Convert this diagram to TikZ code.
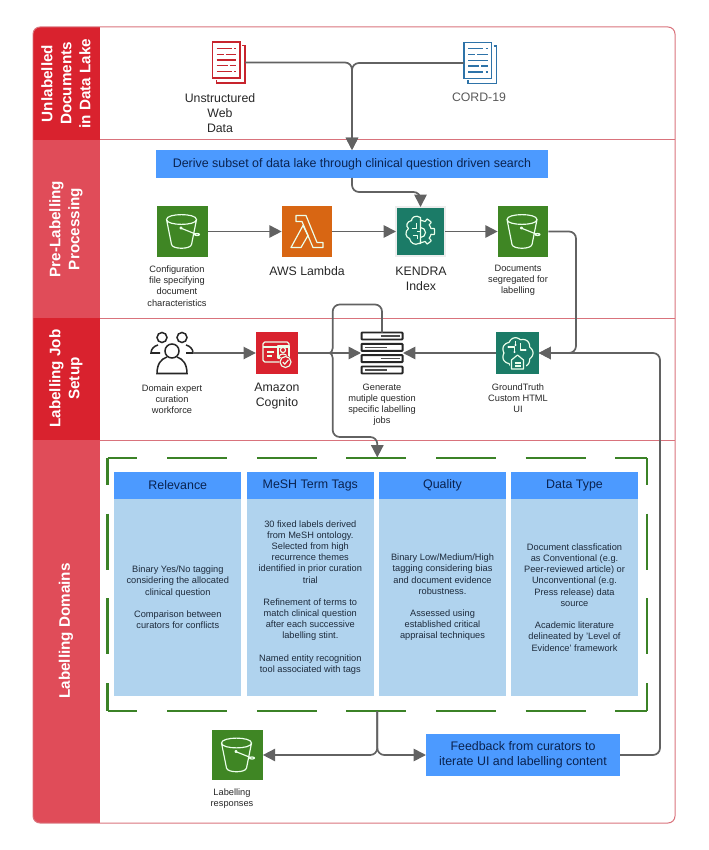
\documentclass[tikz,border=0pt]{standalone}
\usepackage{fontspec}
\setmainfont{Liberation Sans}
\usepackage{xcolor}
\usetikzlibrary{arrows.meta}
\definecolor{bandDark}{HTML}{D9222E}
\definecolor{bandLight}{HTML}{E04C59}
\definecolor{rowLine}{HTML}{D9737C}
\definecolor{flowGray}{HTML}{626262}
\definecolor{boxBlue}{HTML}{4C9AFF}
\definecolor{bodyBlue}{HTML}{B0D3EE}
\definecolor{inkNavy}{HTML}{0A2350}
\definecolor{inkBody}{HTML}{1E2B3C}
\definecolor{s3Green}{HTML}{3F8624}
\definecolor{awsOrange}{HTML}{D86613}
\definecolor{awsTeal}{HTML}{1B7B67}
\definecolor{frameGreen}{HTML}{3B8226}
\definecolor{docRed}{HTML}{C7242D}
\definecolor{docBlue}{HTML}{2E73A8}
\tikzset{
    flowline/.style={draw=flowGray,line width=1.45pt,rounded corners=6pt},
    flowarrow/.style={flowline,-{Triangle[length=10.5pt,width=10.5pt]}},
    iconline/.style={draw=white!92!green,line width=1pt,line join=round},
    tinylabel/.style={align=center,text=black!85,font=\fontsize{7.9}{9.5}\selectfont},
    midlabel/.style={align=center,text=black!85,font=\fontsize{10.5}{12.8}\selectfont},
    bandlabel/.style={align=center,text=white,rotate=90,font=\fontsize{13}{16.2}\bfseries\selectfont},
    iconbox/.style={minimum size=1.52cm,inner sep=0pt,outer sep=0pt},
    smallbox/.style={minimum width=1.27cm,minimum height=1.27cm,inner sep=0pt,outer sep=0pt},
    iconspot/.style={inner sep=0pt,outer sep=0pt},
    bluebox/.style={fill=boxBlue,text=inkNavy,align=center,inner sep=0pt,outer sep=0pt,font=\fontsize{10.6}{12.8}\selectfont},
    colhead/.style={bluebox,minimum width=3.81cm,minimum height=0.79cm},
    colbody/.style={fill=bodyBlue,text=inkBody,align=center,inner sep=0pt,outer sep=0pt,minimum width=3.81cm,minimum height=5.92cm,font=\fontsize{7.9}{9.55}\selectfont},
    domainh/.style={draw=frameGreen,line width=2pt,dash pattern=on 51.2pt off 25.3pt,dash phase=25.6pt},
    domainv/.style={draw=frameGreen,line width=2pt,dash pattern=on 47.8pt off 24.5pt,dash phase=24.8pt},
    pics/docpage/.style={code={
        \draw[line width=1.3pt] (-16,-20.5) rectangle (11.5,15.5);
        \draw[line width=1.3pt] (13.5,-17) -- (16.5,-17) -- (16.5,20.5) -- (-12,20.5) -- (-12,17.5);
        \foreach \rowy/\enda/\startb in {-14.2/3/5.5,-8.2/-5/-3,-2.5/7.5/7.5,3.2/-1/1,9.2/3/5.5}{
            \draw[line width=1.2pt] (-12,\rowy) -- (\enda,\rowy);
            \draw[line width=1.2pt] (\startb,\rowy) -- (7.5,\rowy);
        }
    }},
    pics/bucketpic/.style={code={
        \draw[iconline] (-16,-12) .. controls (-16,-18.5) and (14,-18.5) .. (14,-12)
            .. controls (14,-5.5) and (-16,-5.5) .. (-16,-12)
            -- (-11,13) .. controls (-10,18) and (8,18) .. (9,13) -- (14,-12);
        \draw[iconline] (-2,-3.5) -- (13,2.5);
        \draw[iconline] (-1.5,-3.5) circle [radius=1];
        \draw[iconline] (14.5,3) ellipse [x radius=2.5,y radius=1];
    }},
    pics/lambdapic/.style={code={
        \draw[iconline] (-11,-16) -- (-1,-16) -- (10,11) -- (16,11) -- (16,16) -- (6,16)
            -- (-5,-10) -- (-11,-10) -- cycle;
        \draw[iconline] (-16,16) -- (-4,-6) -- (1,4) -- (-6,16) -- cycle;
    }},
    pics/brainpic/.style={code={
        \draw[iconline] (0,-14) .. controls (-5,-17) and (-9,-14) .. (-9,-11)
            .. controls (-14,-10) and (-15,-5) .. (-12,-3)
            .. controls (-16,0) and (-15,6) .. (-11,7)
            .. controls (-10,12) and (-5,14) .. (-2,12) .. controls (-1,13) and (0,12) .. (0,10) -- cycle;
        \draw[iconline] plot[domain=-90:90,samples=73,smooth] (\x:{12.5+1.6*sign(cos(7*\x))});
        \draw[iconline] (0,-4) arc [start angle=-90,end angle=90,radius=5];
        \draw[iconline] (-9,-3) -- (-4,-3) -- (-4,-8);
        \draw[iconline] (-8,4) -- (-3,4) -- (-3,8);
        \draw[iconline] (-4,0) -- (0,0);
    }},
    pics/treepic/.style={code={
        \draw[iconline] plot[domain=0:360,samples=97,smooth cycle] (\x:{13.5+2*abs(cos(3.5*\x))});
        \fill[awsTeal] (-8,3) rectangle (8,17);
        \draw[iconline] (-6,7) -- (0,2) -- (6,7) -- (6,16) -- (-6,16) -- cycle;
        \draw[iconline] (-3,10) -- (3,10) (-3,13) -- (3,13);
        \draw[iconline] (-9,-6) -- (-3,-6) -- (-3,-1) (3,-10) -- (3,-3) -- (8,-3) (-2,-12) -- (-2,-8);
        \foreach \dotx/\doty in {-9/-6,-3/-1,8/-3,-2/-8}{
            \fill[white] (\dotx,\doty) circle [radius=1.1];
        }
    }},
    pics/cognitopic/.style={code={
        \draw[iconline,rounded corners=1.5pt] (4,9) -- (-14,9) -- (-14,-11) -- (12,-11) -- (12,0);
        \draw[iconline] (-14,-6) -- (12,-6);
        \draw[iconline] (-10,-1) -- (-3,-1) (-10,3) -- (-5,3);
        \draw[iconline] (1,-7) rectangle (12,5);
        \draw[iconline] (6,-3) circle [radius=2.6];
        \draw[iconline] (2,4) .. controls (2,0) and (10,0) .. (10,4);
        \fill[bandDark] (8.5,9) circle [radius=6.5];
        \draw[iconline] (8.5,9) circle [radius=5.5];
        \draw[iconline] (5.8,9) -- (7.8,11.2) -- (11.4,6.8);
    }},
    pics/serverpic/.style={code={
        \foreach \rowy/\linea/\lineb in {-17/-1.5/17.5,-5.6/-17/4.5,5.6/-1.5/17.5,17/-17/4.5}{
            \draw[black!85,line width=1.7pt,rounded corners=0.6pt] (-20.5,\rowy-3.5) rectangle (20.5,\rowy+3.5);
            \draw[black!70,line width=1.2pt] (\linea,\rowy) -- (\lineb,\rowy);
        }
    }},
    pics/peoplepic/.style={code={
        \draw[black!85,line width=1.3pt] (-10,-15.5) circle [radius=5];
        \draw[black!85,line width=1.3pt] (10,-15.5) circle [radius=5];
        \draw[black!85,line width=1.3pt] (-14,-8) .. controls (-18,-7) and (-21,-4) .. (-21,0) -- (-12,0);
        \draw[black!85,line width=1.3pt] (14,-8) .. controls (18,-7) and (21,-4) .. (21,0) -- (14,0);
        \fill[white] (0,-2) circle [radius=7.5];
        \draw[black!85,line width=1.3pt] (0,-2) circle [radius=7];
        \draw[black!85,line width=1.3pt] (-5,4) .. controls (-11,6) and (-15,11) .. (-15,20.5) -- (15,20.5)
            .. controls (15,11) and (11,6) .. (5,4);
    }}
}
\begin{document}
\begin{tikzpicture}[x=0.03cm,y=-0.03cm]
    \useasboundingbox (0,0) rectangle (708,850);

    % swimlane bands
    \begin{scope}
        \clip[rounded corners=6pt] (33,27) rectangle (675,823);
        \fill[bandDark] (33,27) rectangle (100,140);
        \fill[bandLight] (33,140) rectangle (100,318);
        \fill[bandDark] (33,318) rectangle (100,440);
        \fill[bandLight] (33,440) rectangle (100,823);
    \end{scope}
    \draw[rowLine,line width=0.85pt,rounded corners=6pt] (33,27) rectangle (675,823);
    \foreach \rowy in {140,318,440}{
        \draw[rowLine,line width=0.85pt] (100,\rowy) -- (675,\rowy);
    }
    \node[bandlabel] (bandLake) at (66,83.5) {Unlabelled\\Documents\\in Data Lake};
    \node[bandlabel] (bandPre) at (66,229) {Pre-Labelling\\Processing};
    \node[bandlabel] (bandJob) at (66,378.5) {Labelling Job\\Setup};
    \node[bandlabel] (bandDomain) at (66,631) {Labelling Domains};

    % first lane
    \node[iconspot,minimum width=0.99cm,minimum height=1.23cm] (docRed) at (228.5,62.5) {};
    \pic[docRed] at (docRed) {docpage};
    \node[iconspot,minimum width=0.99cm,minimum height=1.23cm] (docBlue) at (480,63) {};
    \pic[docBlue] at (docBlue) {docpage};
    \node[midlabel] (labelWeb) at (220,113) {Unstructured\\Web\\Data};
    \node[midlabel,text=black!65] (labelCord) at (479,97) {CORD-19};
    \node[bluebox,minimum width=11.76cm,minimum height=0.84cm] (subset) at (352,164) {Derive subset of data lake through clinical question driven search};

    % second lane
    \node[iconbox,fill=s3Green] (bucketConfig) at (182.5,231.5) {};
    \pic at (bucketConfig) {bucketpic};
    \node[iconbox,fill=awsOrange] (lambda) at (307,231.5) {};
    \pic at (lambda) {lambdapic};
    \node[iconbox,minimum size=1.47cm,fill=awsTeal,draw=black!7,line width=1.5pt] (kendra) at (420.5,231.5) {};
    \pic at (kendra) {brainpic};
    \node[iconbox,fill=s3Green] (bucketDocs) at (523,231.5) {};
    \pic at (bucketDocs) {bucketpic};
    \node[tinylabel] (labelConfig) at (177,286) {Configuration\\file specifying\\document\\characteristics};
    \node[midlabel] (labelLambda) at (307,271) {AWS Lambda};
    \node[midlabel] (labelKendra) at (421,278.5) {KENDRA\\Index};
    \node[tinylabel] (labelDocs) at (518,280.5) {Documents\\segregated for\\labelling};

    % third lane
    \node[iconspot,minimum width=1.26cm,minimum height=1.23cm] (people) at (172,353) {};
    \pic at (people) {peoplepic};
    \node[smallbox,fill=bandDark] (cognito) at (277,353) {};
    \pic at (cognito) {cognitopic};
    \node[iconspot,minimum width=1.26cm,minimum height=1.23cm] (server) at (382,353) {};
    \pic at (server) {serverpic};
    \node[smallbox,fill=awsTeal] (groundtruth) at (517.5,353) {};
    \pic at (groundtruth) {treepic};
    \node[tinylabel] (labelPeople) at (172,399) {Domain expert\\curation\\workforce};
    \node[midlabel] (labelCognito) at (277,396.5) {Amazon\\Cognito};
    \node[tinylabel] (labelServer) at (382,404.5) {Generate\\mutiple question\\specific labelling\\jobs};
    \node[tinylabel] (labelTruth) at (518,398) {GroundTruth\\Custom HTML\\UI};

    % labelling domains
    \draw[domainh] (107.5,458) -- (647,458);
    \draw[domainh] (107.5,710.7) -- (647,710.7);
    \draw[domainv] (107.5,458) -- (107.5,710.7);
    \draw[domainv] (647,458) -- (647,710.7);
    \node[colhead] (headRelevance) at (177.8,485.5) {Relevance};
    \node[colbody] (bodyRelevance) at (177.8,597.4) {Binary Yes/No tagging\\considering the allocated\\clinical question\\[\baselineskip]Comparison between\\curators for conflicts};
    \node[colhead] (headMesh) at (310.3,485.5) {MeSH Term Tags};
    \node[colbody] (bodyMesh) at (310.3,597.4) {30 fixed labels derived\\from MeSH ontology.\\Selected from high\\recurrence themes\\identified in prior curation\\trial\\[\baselineskip]Refinement of terms to\\match clinical question\\after each successive\\labelling stint.\\[\baselineskip]Named entity recognition\\tool associated with tags};
    \node[colhead] (headQuality) at (442.5,485.5) {Quality};
    \node[colbody] (bodyQuality) at (442.5,597.4) {Binary Low/Medium/High\\tagging considering bias\\and document evidence\\robustness.\\[\baselineskip]Assessed using\\established critical\\appraisal techniques};
    \node[colhead] (headType) at (574.5,485.5) {Data Type};
    \node[colbody] (bodyType) at (574.5,597.4) {Document classfication\\as Conventional (e.g.\\Peer-reviewed article) or\\Unconventional (e.g.\\Press release) data\\source\\[\baselineskip]Academic literature\\delineated by 'Level of\\Evidence' framework};

    % bottom of the last lane
    \node[iconbox,fill=s3Green] (bucketResp) at (237.5,755) {};
    \pic at (bucketResp) {bucketpic};
    \node[tinylabel] (labelResp) at (232,799) {Labelling\\responses};
    \node[bluebox,minimum width=5.82cm,minimum height=1.26cm] (feedback) at (523,755) {Feedback from curators to\\iterate UI and labelling content};

    % turning points of the connectors
    \coordinate (kendraTurn) at (420.5,192);
    \coordinate (truthTurn) at (576,300);
    \coordinate (feedTurn) at (660,500);
    \coordinate (loopTopRight) at (382,304.5);
    \coordinate (loopTopLeft) at (332.7,304.5);
    \coordinate (hopTop) at (332.7,348);
    \coordinate (hopMid) at (329.6,353);
    \coordinate (hopBottom) at (332.7,358);
    \coordinate (loopBottomLeft) at (332.7,437);
    \coordinate (loopBottomRight) at (377.3,437);
    \coordinate (domainTop) at (377.3,457.5);
    \coordinate (domainBottom) at (377.3,711);

    % connectors
    \draw[flowarrow] (docRed.east) -| (subset.north);
    \draw[flowarrow] (docBlue.west) -| (subset.north);
    \draw[flowarrow] (subset.south) |- (kendraTurn) -- (kendra.north);
    \draw[flowarrow] (bucketConfig.east) -- (lambda.west);
    \draw[flowarrow] (lambda.east) -- (kendra.west);
    \draw[flowarrow] (kendra.east) -- (bucketDocs.west);
    \draw[flowarrow] (bucketDocs.east) -| (truthTurn) |- (groundtruth.east);
    \draw[flowarrow] (feedback.east) -| (feedTurn) |- (groundtruth.east);
    \draw[flowarrow] (groundtruth.west) -- (server.east);
    \draw[flowarrow] (people.east) -- (cognito.west);
    \draw[flowarrow] (cognito.east) -- (server.west);
    \draw[flowline] (server.north) -- (loopTopRight) -- (loopTopLeft) -- (hopTop);
    \draw[flowline,rounded corners=0pt] (hopTop) .. controls (332.7,351) and (331,353) .. (hopMid) .. controls (331,353) and (332.7,355) .. (hopBottom);
    \draw[flowarrow] (hopBottom) -- (loopBottomLeft) -- (loopBottomRight) -- (domainTop);
    \draw[flowarrow] (domainBottom) |- (bucketResp.east);
    \draw[flowarrow] (domainBottom) |- (feedback.west);
\end{tikzpicture}
\end{document}
